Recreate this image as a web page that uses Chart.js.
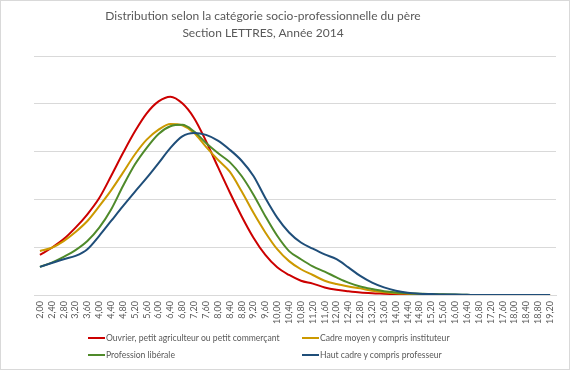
<!DOCTYPE html>
<html>
<head>
<meta charset="utf-8">
<script src="https://cdn.jsdelivr.net/npm/chart.js@4.4.1/dist/chart.umd.min.js"></script>
<style>
  body { margin: 0; background: #fff; }
  #wrap { position: absolute; left: 0; top: 0; width: 570px; height: 370px; box-sizing: border-box; border: 1px solid #d9d9d9; }
  #chart { display: block; }
  .title { position: absolute; left: 0; top: 6px; width: 524px; text-align: center; font-family: Lato, sans-serif; font-size: 12px; line-height: 17px; color: #595959; }
  .legend { position: absolute; left: 0; top: 0; font-family: Lato, sans-serif; font-size: 8.6px; color: #595959; white-space: nowrap; }
  .legend .item { position: absolute; line-height: 10px; }
  .legend .swatch { display: inline-block; width: 17px; height: 2px; vertical-align: middle; margin-right: 1px; position: relative; top: -1px; }
</style>
</head>
<body>
<div id="wrap">
  <canvas id="chart" width="568" height="368"></canvas>
  <div class="title">Distribution selon la catégorie socio-professionnelle du père<br>Section LETTRES, Année 2014</div>
  <div class="legend" id="legend"></div>
</div>
<script>
// ── Data (units = one gridline) ─────────────────────────────────────────────
const labels = ['2,00','2,40','2,80','3,20','3,60','4,00','4,40','4,80','5,20','5,60',
  '6,00','6,40','6,80','7,20','7,60','8,00','8,40','8,80','9,20','9,60',
  '10,00','10,40','10,80','11,20','11,60','12,00','12,40','12,80','13,20','13,60',
  '14,00','14,40','14,80','15,20','15,60','16,00','16,40','16,80','17,20','17,60',
  '18,00','18,40','18,80','19,20'];

const ouvrier = [0.84, 0.99, 1.17, 1.41, 1.69, 2.03, 2.49, 2.97, 3.42, 3.80,
  4.05, 4.15, 4.01, 3.70, 3.22, 2.68, 2.15, 1.65, 1.20, 0.84,
  0.58, 0.42, 0.30, 0.24, 0.16, 0.11, 0.08, 0.055, 0.04, 0.03,
  0.02, 0.01, 0.005, 0, 0, 0, 0, 0, 0, 0, 0, 0, 0, 0];

const cadreMoyen = [0.92, 0.99, 1.13, 1.32, 1.55, 1.86, 2.19, 2.56, 2.94, 3.25,
  3.46, 3.58, 3.55, 3.39, 3.10, 2.83, 2.58, 2.17, 1.72, 1.31,
  0.96, 0.71, 0.54, 0.42, 0.30, 0.23, 0.18, 0.14, 0.09, 0.06,
  0.04, 0.03, 0.02, 0.01, 0.005, 0, 0, 0, 0, 0, 0, 0, 0, 0];

const liberale = [0.59, 0.68, 0.80, 0.94, 1.13, 1.41, 1.79, 2.28, 2.73, 3.08,
  3.37, 3.53, 3.56, 3.42, 3.18, 2.97, 2.78, 2.49, 2.10, 1.65,
  1.24, 0.92, 0.75, 0.60, 0.49, 0.37, 0.26, 0.18, 0.125, 0.08,
  0.055, 0.04, 0.03, 0.02, 0.015, 0.01, 0.005, 0, 0, 0, 0, 0, 0, 0];

const hautCadre = [0.59, 0.67, 0.75, 0.82, 0.96, 1.24, 1.55, 1.86, 2.16, 2.45,
  2.76, 3.08, 3.32, 3.39, 3.35, 3.23, 3.04, 2.81, 2.49, 2.03,
  1.62, 1.31, 1.10, 0.97, 0.85, 0.75, 0.58, 0.40, 0.26, 0.16,
  0.09, 0.05, 0.03, 0.02, 0.01, 0.01, 0.005, 0, 0, 0, 0, 0, 0, 0];

const series = [
  { label: 'Ouvrier, petit agriculteur ou petit commerçant', data: ouvrier, color: '#cc0000', order: 4 },
  { label: 'Cadre moyen y compris instituteur', data: cadreMoyen, color: '#cc9900', order: 3 },
  { label: 'Profession libérale', data: liberale, color: '#4f8a2a', order: 2 },
  { label: 'Haut cadre y compris professeur', data: hautCadre, color: '#1f4e79', order: 1 }
];

// ── Chart ───────────────────────────────────────────────────────────────────
new Chart(document.getElementById('chart'), {
  type: 'line',
  data: {
    labels: labels,
    datasets: series.map(function (s) {
      return {
        label: s.label,
        data: s.data,
        borderColor: s.color,
        backgroundColor: s.color,
        borderWidth: 2,
        pointRadius: 0,
        cubicInterpolationMode: 'monotone',
        order: s.order
      };
    })
  },
  options: {
    responsive: false,
    animation: false,
    events: [],
    layout: { padding: { left: 33, right: 13, top: 55, bottom: 39 } },
    plugins: {
      legend: { display: false },
      tooltip: { enabled: false }
    },
    scales: {
      x: {
        offset: true,
        grid: { display: false, drawTicks: false },
        border: { color: '#d9d9d9' },
        ticks: { color: '#595959', font: { family: 'Lato, sans-serif', size: 9 }, autoSkip: false, minRotation: 90, maxRotation: 90, padding: 6 }
      },
      y: {
        min: 0, max: 5,
        grid: { color: '#d9d9d9', drawTicks: false },
        border: { display: false },
        ticks: { display: false, stepSize: 1 }
      }
    }
  }
});

// ── HTML legend, two columns ────────────────────────────────────────────────
const legendPos = [[87, 332], [301, 332], [87, 349], [301, 349]];
const legend = document.getElementById('legend');
series.forEach(function (s, i) {
  const item = document.createElement('div');
  item.className = 'item';
  item.style.left = legendPos[i][0] + 'px';
  item.style.top = legendPos[i][1] + 'px';
  item.innerHTML = '<span class="swatch" style="background:' + s.color + '"></span>' + s.label;
  legend.appendChild(item);
});
</script>
</body>
</html>
